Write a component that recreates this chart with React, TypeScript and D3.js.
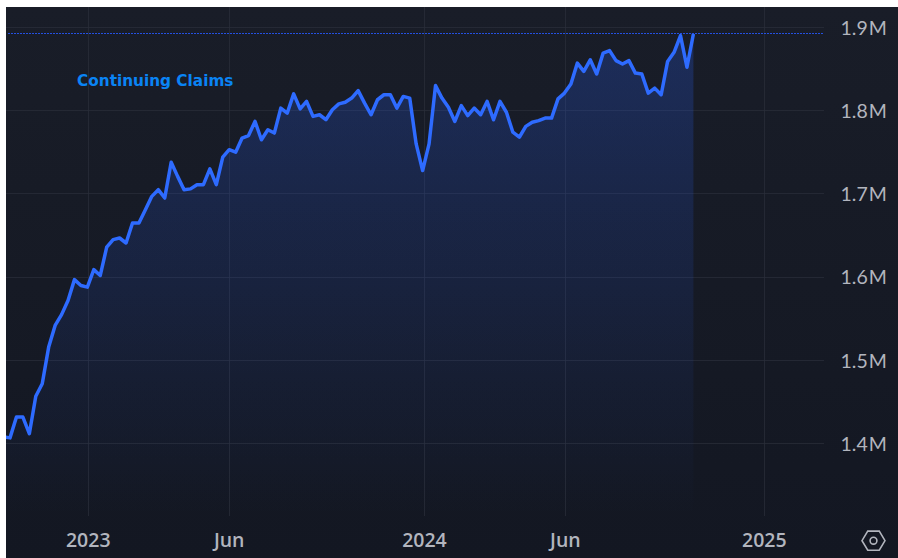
import React, { useEffect, useRef } from 'react';
import * as d3 from 'd3';

// weekly continuing claims, thousands
const claims = [
  1408, 1407, 1432, 1432, 1412, 1457, 1472, 1516, 1542, 1555, 1572, 1597, 1590, 1588, 1609, 1602,
  1636, 1645, 1647, 1641, 1665, 1665, 1681, 1697, 1705, 1695, 1738, 1721, 1705, 1706, 1711, 1711,
  1730, 1711, 1744, 1753, 1750, 1767, 1770, 1787, 1765, 1777, 1773, 1803, 1797, 1820, 1802, 1811,
  1793, 1795, 1789, 1801, 1808, 1810, 1815, 1824, 1809, 1795, 1813, 1819, 1819, 1803, 1817, 1815,
  1760, 1728, 1760, 1830, 1815, 1804, 1787, 1806, 1794, 1803, 1795, 1811, 1789, 1811, 1798, 1774,
  1768, 1781, 1786, 1788, 1791, 1791, 1814, 1821, 1832, 1857, 1847, 1861, 1844, 1869, 1872, 1860,
  1856, 1860, 1845, 1844, 1821, 1827, 1819, 1859, 1870, 1890, 1852, 1892,
];
const firstWeek = new Date(2022, 9, 8);
const yTicks = [1400, 1500, 1600, 1700, 1800, 1900];
const yTickLabels = ['1.4 M', '1.5 M', '1.6 M', '1.7 M', '1.8 M', '1.9 M'];
const xTicks = [
  { date: new Date(2023, 0, 8), label: '2023' },
  { date: new Date(2023, 5, 10), label: 'Jun' },
  { date: new Date(2024, 0, 8), label: '2024' },
  { date: new Date(2024, 5, 9), label: 'Jun' },
  { date: new Date(2025, 0, 11), label: '2025' },
];
const seriesName = 'Continuing Claims';

const WIDTH = 898;
const HEIGHT = 558;
const LEFT = 6;
const TOP = 7;
const PLOT_RIGHT = 824;
const PLOT_BOTTOM = 516;

const App: React.FC = () => {
  const svgRef = useRef<SVGSVGElement>(null);

  useEffect(() => {
    if (!svgRef.current) return;

    const svg = d3.select(svgRef.current);
    svg.selectAll('*').remove();

    const weeks = claims.map((_, i) => d3.timeDay.offset(firstWeek, i * 7));
    const x = d3.scaleTime()
      .domain([weeks[0], weeks[weeks.length - 1]])
      .range([3.55, 693.4]);
    const y = d3.scaleLinear().domain([1400, 1900]).range([443.7, 27.3]);
    const snap = (v: number) => Math.floor(v) + 0.5;

    const defs = svg.append('defs');
    const bg = defs.append('linearGradient').attr('id', 'bg').attr('x1', 0).attr('x2', 0).attr('y1', 0).attr('y2', 1);
    bg.append('stop').attr('offset', 0).attr('stop-color', '#191d28');
    bg.append('stop').attr('offset', 1).attr('stop-color', '#131722');

    const fill = defs.append('linearGradient')
      .attr('id', 'areaFill')
      .attr('gradientUnits', 'userSpaceOnUse')
      .attr('x1', 0).attr('x2', 0)
      .attr('y1', 30).attr('y2', PLOT_BOTTOM);
    fill.append('stop').attr('offset', 0).attr('stop-color', '#2962ff').attr('stop-opacity', 0.24);
    fill.append('stop').attr('offset', 1).attr('stop-color', '#2962ff').attr('stop-opacity', 0);

    defs.append('clipPath').attr('id', 'plotClip')
      .append('rect')
      .attr('x', LEFT).attr('y', TOP)
      .attr('width', PLOT_RIGHT - LEFT).attr('height', PLOT_BOTTOM - TOP);

    svg.append('rect').attr('width', WIDTH).attr('height', HEIGHT).attr('fill', '#ffffff');
    svg.append('rect')
      .attr('x', LEFT).attr('y', TOP)
      .attr('width', WIDTH - LEFT).attr('height', HEIGHT - TOP)
      .attr('fill', 'url(#bg)');

    // Grid
    const grid = svg.append('g').attr('stroke', '#2a2e39').attr('stroke-opacity', 0.75).attr('stroke-width', 1);
    grid.selectAll('line.h')
      .data(yTicks)
      .join('line')
      .attr('class', 'h')
      .attr('x1', LEFT).attr('x2', PLOT_RIGHT)
      .attr('y1', d => snap(y(d))).attr('y2', d => snap(y(d)));
    grid.selectAll('line.v')
      .data(xTicks)
      .join('line')
      .attr('class', 'v')
      .attr('x1', d => snap(x(d.date))).attr('x2', d => snap(x(d.date)))
      .attr('y1', TOP).attr('y2', PLOT_BOTTOM);

    const plot = svg.append('g').attr('clip-path', 'url(#plotClip)');

    const area = d3.area<number>()
      .x((_, i) => x(weeks[i]))
      .y0(PLOT_BOTTOM)
      .y1(d => y(d));
    plot.append('path').datum(claims).attr('d', area).attr('fill', 'url(#areaFill)');

    // Last value line
    const last = claims[claims.length - 1];
    svg.append('line')
      .attr('x1', LEFT + 2).attr('x2', PLOT_RIGHT)
      .attr('y1', snap(y(last))).attr('y2', snap(y(last)))
      .attr('stroke', '#2450e0')
      .attr('stroke-width', 1)
      .attr('stroke-dasharray', '2 1');

    const line = d3.line<number>()
      .x((_, i) => x(weeks[i]))
      .y(d => y(d));
    plot.append('path')
      .datum(claims)
      .attr('d', line)
      .attr('fill', 'none')
      .attr('stroke', '#2e6bff')
      .attr('stroke-width', 3.5)
      .attr('stroke-linejoin', 'round');

    svg.append('text')
      .attr('x', 77).attr('y', 85.5)
      .attr('font-family', 'DejaVu Sans')
      .attr('font-weight', 700)
      .attr('font-size', 15.3)
      .attr('fill', '#0a84f5')
      .text(seriesName);

    // Axis labels
    svg.append('g')
      .selectAll('text')
      .data(yTicks)
      .join('text')
      .attr('x', 840.5)
      .attr('y', d => y(d) + 7.3)
      .attr('font-family', 'Lato')
      .attr('font-size', 19.5)
      .attr('fill', '#b2b5be')
      .style('word-spacing', '-4px')
      .text((_, i) => yTickLabels[i]);

    svg.append('g')
      .selectAll('text')
      .data(xTicks)
      .join('text')
      .attr('x', d => x(d.date))
      .attr('y', 547)
      .attr('text-anchor', 'middle')
      .attr('font-family', 'Open Sans')
      .attr('font-weight', 600)
      .attr('font-size', 19.5)
      .attr('fill', '#b2b5be')
      .text(d => d.label);

    // Hexagon logo button
    const hex = d3.range(6).map(i => {
      const a = (i * Math.PI) / 3;
      return [873.5 + 11.5 * Math.cos(a), 540.7 + 11 * Math.sin(a)] as [number, number];
    });
    svg.append('path')
      .attr('d', d3.line().curve(d3.curveLinearClosed)(hex))
      .attr('fill', 'none')
      .attr('stroke', '#b2b5be')
      .attr('stroke-width', 1.6);
    svg.append('circle')
      .attr('cx', 873.5).attr('cy', 540.7).attr('r', 3.4)
      .attr('fill', 'none')
      .attr('stroke', '#b2b5be')
      .attr('stroke-width', 1.6);
  }, []);

  return (
    <svg
      ref={svgRef}
      width={WIDTH}
      height={HEIGHT}
      style={{ position: 'absolute', left: 0, top: 0, display: 'block' }}
    />
  );
};

export default App;
